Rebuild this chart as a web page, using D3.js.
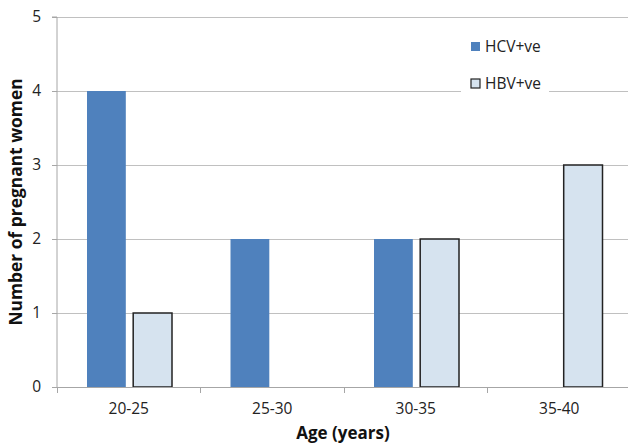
<!DOCTYPE html>
<html><head><meta charset="utf-8">
<script src="https://cdn.jsdelivr.net/npm/d3@7"></script>
<style>body{margin:0;background:#fff;} svg{display:block;}</style>
</head><body>
<script>
const categories = ["20-25", "25-30", "30-35", "35-40"];
const seriesNames = ["HCV+ve", "HBV+ve"];
const hcvValues = [4, 2, 2, 0];
const hbvValues = [1, 0, 2, 3];
const yTicks = [0, 1, 2, 3, 4, 5];

const W = 628, H = 444;
const svg = d3.select("body").append("svg").attr("width", W).attr("height", H);
const font = "Open Sans, Liberation Sans, sans-serif";

const x = d3.scaleBand().domain(categories).range([57, 631]).paddingInner(0).paddingOuter(0);
const x1 = d3.scaleBand().domain(seriesNames).range([30, 115]).paddingInner(0.16);
const y = d3.scaleLinear().domain([0, 5]).range([387, 17]);

// gridlines
svg.append("g").selectAll("line").data(yTicks.filter(d => d > 0)).join("line")
  .attr("x1", 57).attr("x2", 631).attr("y1", d => y(d)).attr("y2", d => y(d))
  .attr("stroke", "#c0c0c0").attr("stroke-width", 1).attr("shape-rendering", "crispEdges");

// y axis
const yAxis = svg.append("g").attr("transform", "translate(57,0)")
  .call(d3.axisLeft(y).tickValues(yTicks).tickSize(5).tickPadding(11).tickFormat(d3.format("d")));
yAxis.select(".domain").attr("stroke", "#a6a6a6").attr("d", `M-5,${y(5)}H0V${y(0)}`);
yAxis.selectAll(".tick line").attr("stroke", "#a6a6a6");
yAxis.selectAll("text").attr("font-family", font).attr("font-size", 15.5).attr("fill", "#222");

// bars
const data = categories.map((c, i) => ({ c, vals: [hcvValues[i], hbvValues[i]] }));
const fills = ["#4f81bd", "#d6e3ef"];
const strokes = ["none", "#222"];
const g = svg.append("g");
data.forEach(d => {
  d.vals.forEach((v, j) => {
    if (v <= 0) return;
    g.append("rect")
      .attr("x", x(d.c) + x1(seriesNames[j]))
      .attr("y", y(v))
      .attr("width", x1.bandwidth())
      .attr("height", y(0) - y(v))
      .attr("fill", fills[j])
      .attr("stroke", strokes[j])
      .attr("stroke-width", 1.5);
  });
});

// x axis
const xAxis = svg.append("g").attr("transform", `translate(0,${y(0)})`)
  .call(d3.axisBottom(x).tickSize(0).tickPadding(16));
xAxis.select(".domain").attr("stroke", "#a6a6a6");
xAxis.selectAll("text").attr("font-family", font).attr("font-size", 15.5).attr("fill", "#222");
svg.append("g").selectAll("line").data(categories.map(c => x(c)).concat([x.range()[1]])).join("line")
  .attr("x1", d => d).attr("x2", d => d).attr("y1", y(0)).attr("y2", y(0) + 6)
  .attr("stroke", "#a6a6a6").attr("shape-rendering", "crispEdges");

// legend
const lg = svg.append("g");
lg.append("rect").attr("x", 461).attr("y", 28).attr("width", 88).attr("height", 72).attr("fill", "#fff");
seriesNames.forEach((s, j) => {
  const yy = 47 + j * 37;
  lg.append("rect").attr("x", 471).attr("y", yy - 5).attr("width", 9).attr("height", 9)
    .attr("fill", fills[j]).attr("stroke", j ? "#222" : "none").attr("stroke-width", 1.2);
  lg.append("text").attr("x", 485).attr("y", yy).attr("dy", "0.35em")
    .attr("font-family", font).attr("font-size", 15.5).attr("fill", "#222").text(s);
});

// axis titles
svg.append("text").attr("x", 343).attr("y", 439).attr("text-anchor", "middle")
  .attr("font-family", font).attr("font-weight", "bold").attr("font-size", 17).attr("fill", "#111")
  .text("Age (years)");
svg.append("text").attr("transform", "translate(16,202) rotate(-90)").attr("dy", "0.35em")
  .attr("text-anchor", "middle").attr("font-family", font).attr("font-weight", "bold")
  .attr("font-size", 17.4).attr("fill", "#111").text("Number of pregnant women");
</script>
</body></html>
